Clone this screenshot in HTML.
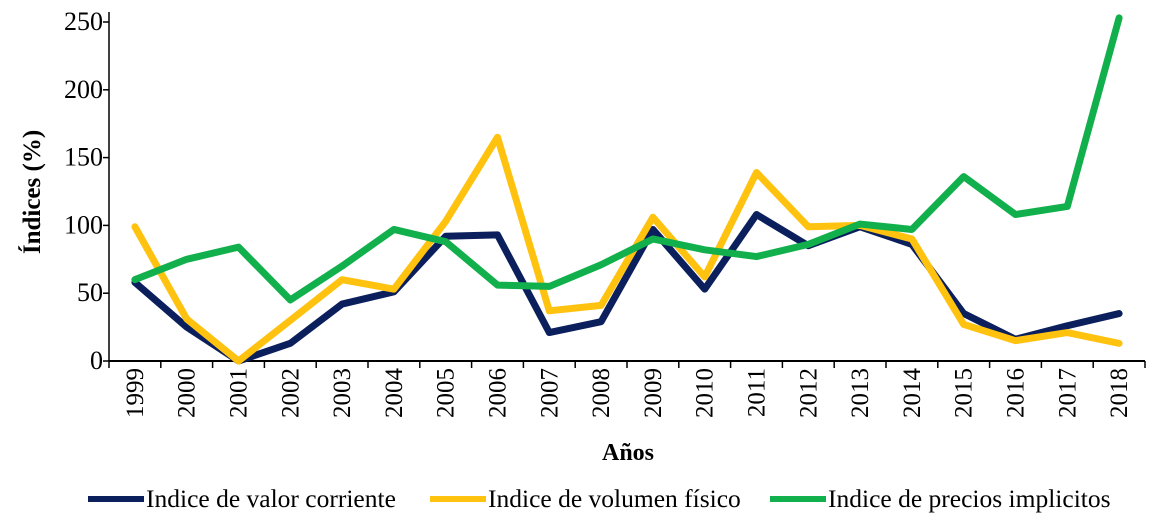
<!DOCTYPE html>
<html><head><meta charset="utf-8"><style>
body{margin:0;background:#fff;}
svg text{font-family:"Liberation Serif",serif;fill:#000;}
</style></head><body>
<svg width="1157" height="516" viewBox="0 0 1157 516">
<g id="axes"></g><g id="series"></g>
<text x="628" y="460" font-size="24" font-weight="bold" text-anchor="middle">Años</text>
<text transform="translate(40,192) rotate(-90)" font-size="25" font-weight="bold" text-anchor="middle">Índices (%)</text>
<g>
<line x1="88" y1="499" x2="144" y2="499" stroke="#0a1f5c" stroke-width="6"/>
<text x="146" y="507" font-size="25.5">Indice de valor corriente</text>
<line x1="430" y1="499" x2="486" y2="499" stroke="#ffc20e" stroke-width="6"/>
<text x="488" y="507" font-size="25.5">Indice de volumen físico</text>
<line x1="770" y1="499" x2="826" y2="499" stroke="#12b04c" stroke-width="6"/>
<text x="828" y="507" font-size="25.5">Indice de precios implicitos</text>
</g>
</svg>
<script>
const years=["1999","2000","2001","2002","2003","2004","2005","2006","2007","2008","2009","2010","2011","2012","2013","2014","2015","2016","2017","2018"];
const valor=[58,25,0,13,42,51,92,93,21,29,97,53,108,85,99,86,35,16,26,35];
const volumen=[99,31,0,30,60,53,103,165,37,41,106,62,139,99,100,90,27,15,21,13];
const precios=[60,75,84,45,70,97,88,56,55,71,90,82,77,86,101,97,136,108,114,253];
const yTicks=[0,50,100,150,200,250];
const NS="http://www.w3.org/2000/svg";
const x0=109,x1=1145,y0=361,yTop=22,yMax=250;
const bw=(x1-x0)/years.length;
const X=i=>x0+bw*(i+0.5);
const Y=v=>y0-(v/yMax)*(y0-yTop);
const ax=document.getElementById('axes'),se=document.getElementById('series');
function mk(t,a,p){const e=document.createElementNS(NS,t);for(const k in a)e.setAttribute(k,a[k]);p.appendChild(e);return e;}
let l=mk('line',{x1:x0,y1:y0,x2:x1,y2:y0,stroke:'#000','stroke-width':2},ax);


l=mk('line',{x1:x0,y1:y0,x2:x0,y2:12,stroke:'#000','stroke-width':1.5},ax);


yTicks.forEach(v=>{
 const t=mk('line',{x1:x0-6,y1:Y(v),x2:x0,y2:Y(v),stroke:'#000','stroke-width':1.5},ax);
 
 
 const tx=mk('text',{x:x0-6,y:Y(v)+8,'font-size':26,'text-anchor':'end'},ax);
 tx.textContent=v;
 
 
});
for(let i=0;i<=years.length;i++){
 const t=mk('line',{x1:x0+bw*i,y1:y0,x2:x0+bw*i,y2:y0+7,stroke:'#000','stroke-width':1.5},ax);
 
 
}
years.forEach((y,i)=>{
 const tx=mk('text',{transform:`translate(${X(i)+8},${y0+7}) rotate(-90)`,'font-size':25,'text-anchor':'end'},ax);
 tx.textContent=y;
 
 
});
[[valor,'#0a1f5c','line-valor-corriente'],[volumen,'#ffc20e','line-volumen-fisico'],[precios,'#12b04c','line-precios-implicitos']].forEach(([d,c,n])=>{
 const p=mk('polyline',{points:d.map((v,i)=>X(i)+','+Y(v)).join(' '),fill:'none',stroke:c,'stroke-width':7,'stroke-linejoin':'round','stroke-linecap':'round'},se);
 
 
});
</script>
</body></html>
